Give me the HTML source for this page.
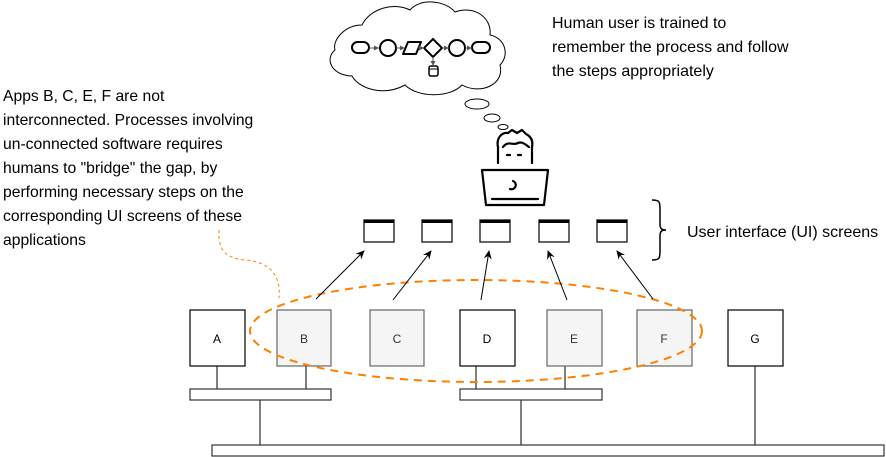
<!DOCTYPE html>
<html><head><meta charset="utf-8"><style>
html,body{margin:0;padding:0;background:#fff;}
svg{display:block;}
text{font-family:"Liberation Sans",Arial,sans-serif;}
</style></head><body>
<svg width="886" height="457" viewBox="0 0 886 457" xmlns="http://www.w3.org/2000/svg">
<defs>
<marker id="ar" markerWidth="10" markerHeight="10" refX="8" refY="5" orient="auto" markerUnits="userSpaceOnUse">
<path d="M0,1 L9,5 L0,9 L3,5 Z" fill="#000"/>
</marker>
<marker id="sa" markerWidth="6" markerHeight="6" refX="5" refY="3" orient="auto" markerUnits="userSpaceOnUse">
<path d="M0,0.5 L5,3 L0,5.5 Z" fill="#555"/>
</marker>
</defs>

<path d="M362,25 C345,25 332,40 335,50 C325,58 330,75 352,76 C360,90 385,96 405,85 C418,98 450,98 462,85 C480,95 505,85 500,65 C510,55 505,38 490,35 C492,18 475,5 455,12 C445,0 420,-2 410,10 C395,2 370,8 362,25 Z" fill="#fff" stroke="#000" stroke-width="1"/>
<g stroke="#000" stroke-width="2" fill="#fff">
<rect x="352" y="42" width="17" height="11" rx="5.5"/>
<circle cx="388" cy="48" r="8"/>
<path d="M408,42 L421,42 L416,54 L403,54 Z" stroke-linejoin="round"/>
<path d="M433,39 L442,48 L433,57 L424,48 Z"/>
<circle cx="457" cy="48" r="8"/>
<rect x="472" y="42" width="18" height="11" rx="5.5"/>
<rect x="429" y="66" width="9" height="10" rx="2" stroke-width="1.5"/>
</g>
<g stroke="#555" stroke-width="1" fill="none">
<line x1="369" y1="48" x2="379" y2="48" marker-end="url(#sa)"/>
<line x1="396" y1="48" x2="405" y2="48" marker-end="url(#sa)"/>
<line x1="418" y1="48" x2="424" y2="48" marker-end="url(#sa)"/>
<line x1="442" y1="48" x2="449" y2="48" marker-end="url(#sa)"/>
<line x1="465" y1="48" x2="472" y2="48" marker-end="url(#sa)"/>
<line x1="433" y1="57" x2="433" y2="66" marker-end="url(#sa)"/>
</g>
<line x1="429" y1="69" x2="438" y2="69" stroke="#000" stroke-width="1"/>
<ellipse cx="477" cy="104" rx="12" ry="5" fill="#fff" stroke="#000"/>
<ellipse cx="492" cy="118" rx="8" ry="4" fill="#fff" stroke="#000"/>
<ellipse cx="503" cy="127" rx="5" ry="2.5" fill="#fff" stroke="#000"/>

<g stroke="#000" stroke-width="2.2" fill="none" stroke-linecap="round" stroke-linejoin="round">
<path d="M498,163 L498,147 C496,138 502,132 508,133 L512,130 L517,133 L522,130 L526,134 C532,137 533,142 532,147 L532,163"/>
<path d="M503,147 C508,140 513,146 518,143 C522,141 526,145 529,147"/>
<line x1="507" y1="155" x2="510" y2="155"/>
<line x1="518" y1="155" x2="521" y2="155"/>
<path d="M482,170 L548,170 L544,205 L486,205 Z"/>
<line x1="492" y1="199" x2="538" y2="199"/>
<path d="M513,181 A4,4 0 1 1 510,189"/>
</g>

<g stroke="#333" stroke-width="1.5" fill="#fff">
<rect x="364" y="220" width="30" height="22"/>
<rect x="422" y="220" width="30" height="22"/>
<rect x="480" y="220" width="30" height="22"/>
<rect x="539" y="220" width="30" height="22"/>
<rect x="597" y="220" width="30" height="22"/>
</g>
<g fill="#000">
<rect x="364" y="220" width="30" height="3"/>
<rect x="422" y="220" width="30" height="3"/>
<rect x="480" y="220" width="30" height="3"/>
<rect x="539" y="220" width="30" height="3"/>
<rect x="597" y="220" width="30" height="3"/>
</g>
<path d="M652,200 C660,200 660,202 660,210 L660,224 C660,229 662,230 666,230 C662,230 660,231 660,236 L660,250 C660,258 660,260 652,260" fill="none" stroke="#000" stroke-width="1.5"/>
<text x="687" y="237" font-size="16">User interface (UI) screens</text>

<g font-size="16">
<text x="552" y="28">Human user is trained to</text>
<text x="552" y="52">remember the process and follow</text>
<text x="552" y="76">the steps appropriately</text>
</g>
<g font-size="15.7">
<text x="3" y="101">Apps B, C, E, F are not</text>
<text x="3" y="125">interconnected. Processes involving</text>
<text x="3" y="149">un-connected software requires</text>
<text x="3" y="173">humans to "bridge" the gap, by</text>
<text x="3" y="197">performing necessary steps on the</text>
<text x="3" y="221">corresponding UI screens of these</text>
<text x="3" y="245">applications</text>
</g>

<g stroke="#000" stroke-width="1" fill="none">
<line x1="217" y1="366" x2="217" y2="389"/>
<line x1="306" y1="366" x2="306" y2="389"/>
<line x1="476" y1="366" x2="476" y2="389"/>
<line x1="565" y1="366" x2="565" y2="389"/>
<line x1="260" y1="400" x2="260" y2="445"/>
<line x1="521" y1="400" x2="521" y2="445"/>
<line x1="755" y1="366" x2="755" y2="445"/>
</g>
<g stroke="#333" stroke-width="1.2" fill="#fff">
<rect x="190" y="389" width="141" height="11"/>
<rect x="460" y="389" width="142" height="11"/>
<rect x="212" y="445" width="672" height="11"/>
</g>

<g stroke-width="1.2">
<rect x="190" y="310" width="55" height="56" fill="#fff" stroke="#000"/>
<rect x="277" y="310" width="54" height="56" fill="#f5f5f5" stroke="#666"/>
<rect x="370" y="310" width="54" height="56" fill="#f5f5f5" stroke="#666"/>
<rect x="460" y="310" width="55" height="56" fill="#fff" stroke="#000"/>
<rect x="547" y="310" width="55" height="56" fill="#f5f5f5" stroke="#666"/>
<rect x="637" y="310" width="55" height="56" fill="#f5f5f5" stroke="#666"/>
<rect x="728" y="310" width="55" height="56" fill="#fff" stroke="#000"/>
</g>
<g font-size="12" text-anchor="middle">
<text x="217" y="343">A</text>
<text x="304" y="343" fill="#333">B</text>
<text x="397" y="343" fill="#333">C</text>
<text x="487" y="343">D</text>
<text x="574" y="343" fill="#333">E</text>
<text x="664" y="343" fill="#333">F</text>
<text x="755" y="343">G</text>
</g>

<ellipse cx="476" cy="331" rx="226" ry="51" fill="none" stroke="#ff8000" stroke-width="2" stroke-dasharray="8,6"/>
<path d="M219,230 C218,250 225,258 245,260 C270,262 281,275 279,298" fill="none" stroke="#ff8000" stroke-width="1" stroke-dasharray="3,3"/>

<g stroke="#000" stroke-width="1" marker-end="url(#ar)">
<line x1="316" y1="299" x2="364" y2="251"/>
<line x1="393" y1="300" x2="431" y2="251"/>
<line x1="481" y1="300" x2="489" y2="251"/>
<line x1="567" y1="300" x2="548" y2="251"/>
<line x1="653" y1="299" x2="617" y2="251"/>
</g>
</svg>
</body></html>
